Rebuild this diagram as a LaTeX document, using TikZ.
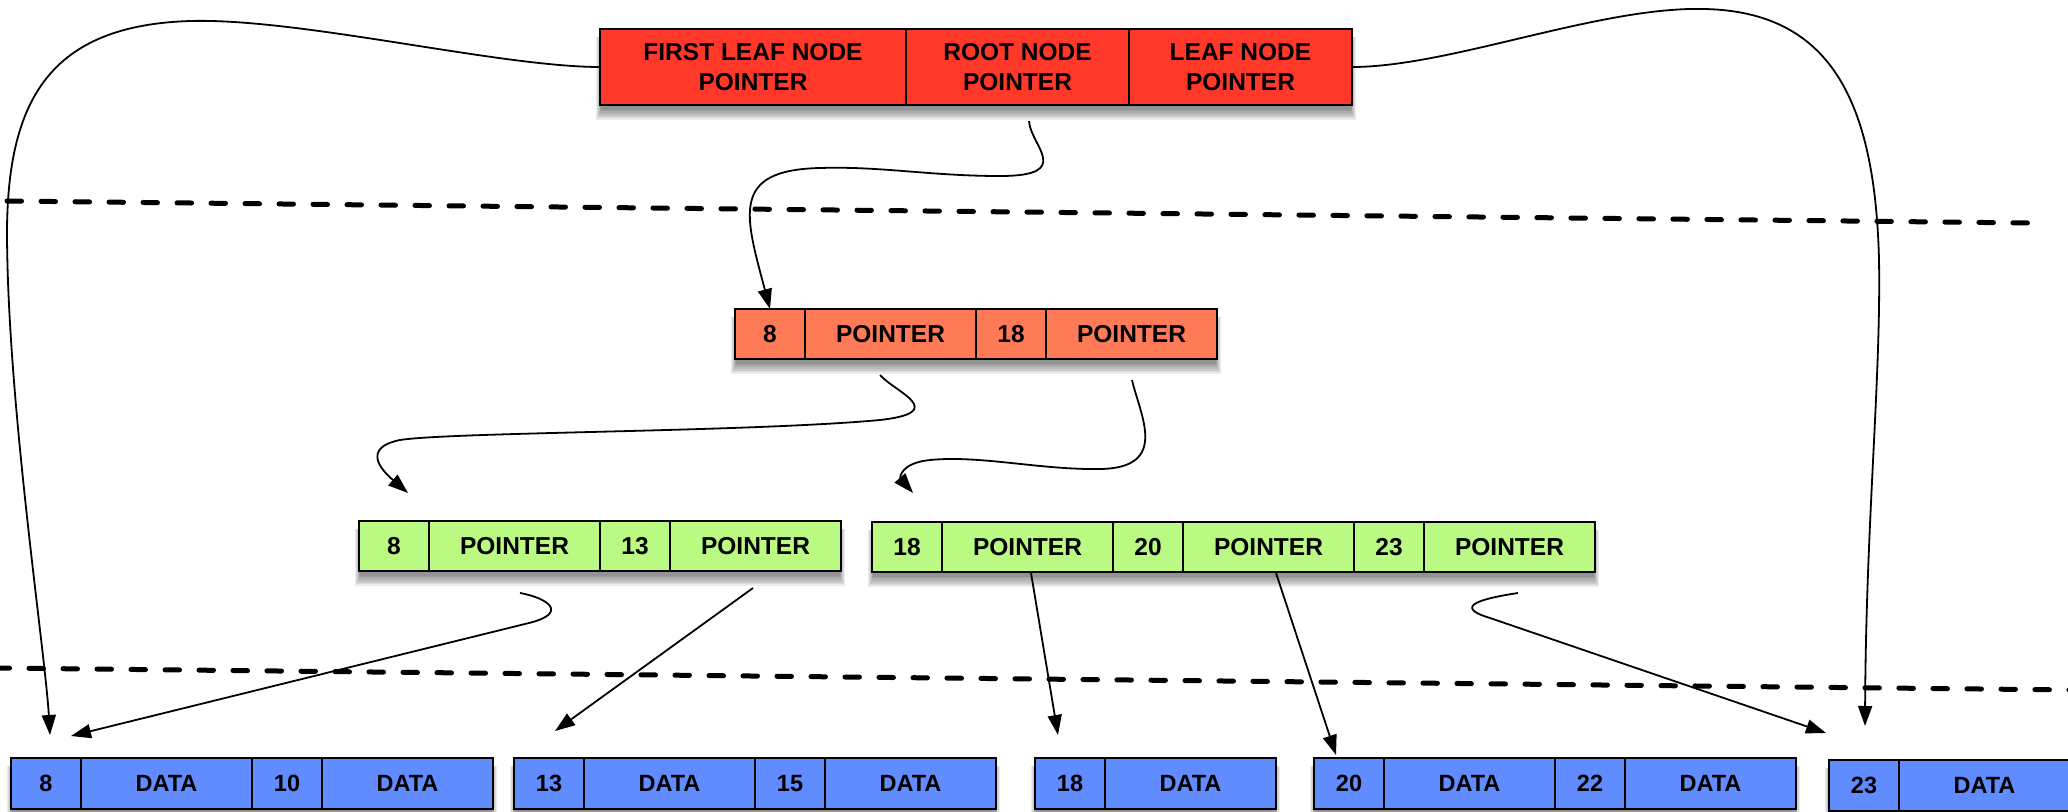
\documentclass[tikz,border=0pt]{standalone}
\usepackage{fontspec}
\setmainfont{Liberation Sans}
\usetikzlibrary{arrows.meta}
\definecolor{topred}{RGB}{255,56,42}
\definecolor{midorange}{RGB}{255,122,87}
\definecolor{leafgreen}{RGB}{186,250,130}
\definecolor{leafblue}{RGB}{96,140,255}
\newcommand\mydropshadow[4]{%
  \foreach \k in {1,...,7}{%
    \fill[black,opacity=0.075] ({#1-\k*0.8+2},{#2+8}) rectangle ({#3+\k*0.8-2},{#4+3+\k*1.7});
  }}
\begin{document}
\begin{tikzpicture}[x=1pt,y=-1pt,
  cellbox/.style={draw=black, line width=1.8pt, inner sep=0pt, outer sep=0pt,
    anchor=north west, align=center,
    font=\fontsize{24.5}{30}\selectfont\bfseries},
  numcell/.style={cellbox, minimum width=70pt, minimum height=50pt},
  ptrcell/.style={cellbox, minimum width=171pt, minimum height=50pt},
  leafnum/.style={numcell, fill=leafblue, minimum height=51pt,
    font=\fontsize{23.5}{28}\selectfont\bfseries},
  leafdata/.style={ptrcell, fill=leafblue, minimum height=51pt,
    font=\fontsize{23.5}{28}\selectfont\bfseries},
  conn/.style={draw=black, line width=1.8pt, -{Triangle[length=20pt,width=14pt]}},
  dashline/.style={draw=black, line width=5pt, line cap=round, dash pattern=on 14.5pt off 19.5pt}
]
\useasboundingbox (0,0) rectangle (2068,811);
\fill[white] (0,0) rectangle (2068,811);

% shadows
\mydropshadow{600}{29}{1352}{105}
\mydropshadow{735}{309}{1217}{359}
\mydropshadow{359}{521}{841}{571}
\mydropshadow{872}{522}{1595}{572}
\mydropshadow{11}{758}{493}{809}
\mydropshadow{514}{758}{996}{809}
\mydropshadow{1035}{758}{1276}{809}
\mydropshadow{1314}{758}{1796}{809}
\mydropshadow{1829}{760}{2070}{811}

% top box
\node[cellbox, fill=topred, minimum width=306pt, minimum height=76pt] (t1) at (600,29) {FIRST LEAF NODE\\POINTER};
\node[cellbox, fill=topred, minimum width=223pt, minimum height=76pt] (t2) at (t1.north east) {ROOT NODE\\POINTER};
\node[cellbox, fill=topred, minimum width=223pt, minimum height=76pt] (t3) at (t2.north east) {LEAF NODE\\POINTER};

% orange internal node
\node[numcell, fill=midorange] (o1) at (735,309) {8};
\node[ptrcell, fill=midorange] (o2) at (o1.north east) {POINTER};
\node[numcell, fill=midorange] (o3) at (o2.north east) {18};
\node[ptrcell, fill=midorange] (o4) at (o3.north east) {POINTER};

% green nodes
\node[numcell, fill=leafgreen] (ga1) at (359,521) {8};
\node[ptrcell, fill=leafgreen] (ga2) at (ga1.north east) {POINTER};
\node[numcell, fill=leafgreen] (ga3) at (ga2.north east) {13};
\node[ptrcell, fill=leafgreen] (ga4) at (ga3.north east) {POINTER};

\node[numcell, fill=leafgreen] (gb1) at (872,522) {18};
\node[ptrcell, fill=leafgreen] (gb2) at (gb1.north east) {POINTER};
\node[numcell, fill=leafgreen] (gb3) at (gb2.north east) {20};
\node[ptrcell, fill=leafgreen] (gb4) at (gb3.north east) {POINTER};
\node[numcell, fill=leafgreen] (gb5) at (gb4.north east) {23};
\node[ptrcell, fill=leafgreen] (gb6) at (gb5.north east) {POINTER};

% leaves
\node[leafnum] (la1) at (11,758) {8};
\node[leafdata] (la2) at (la1.north east) {DATA};
\node[leafnum] (la3) at (la2.north east) {10};
\node[leafdata] (la4) at (la3.north east) {DATA};

\node[leafnum] (lb1) at (514,758) {13};
\node[leafdata] (lb2) at (lb1.north east) {DATA};
\node[leafnum] (lb3) at (lb2.north east) {15};
\node[leafdata] (lb4) at (lb3.north east) {DATA};

\node[leafnum] (lc1) at (1035,758) {18};
\node[leafdata] (lc2) at (lc1.north east) {DATA};

\node[leafnum] (ld1) at (1314,758) {20};
\node[leafdata] (ld2) at (ld1.north east) {DATA};
\node[leafnum] (ld3) at (ld2.north east) {22};
\node[leafdata] (ld4) at (ld3.north east) {DATA};

\node[leafnum] (le1) at (1829,760) {23};
\node[leafdata] (le2) at (le1.north east) {DATA};

% dashed level separators
\draw[dashline] (7,201) -- (2031,223);
\draw[dashline] (-5,668) -- (2075,690);

% connector end points
\coordinate (cRoot) at (1029,121);
\coordinate (cO2) at (880,375);
\coordinate (cO4) at (1132,380);
\coordinate (cGa2) at (520,593);
\coordinate (cGa4) at (753,588);
\coordinate (cGb2) at (1031,573);
\coordinate (cGb4) at (1276,573);
\coordinate (cGb6) at (1518,593);
\coordinate (tipLa1) at (50,735);
\coordinate (tipLa1b) at (71,736);
\coordinate (tipLb1) at (555,731);
\coordinate (tipLc1) at (1058,735);
\coordinate (tipLd1) at (1336,755);
\coordinate (tipLe1) at (1865,726);
\coordinate (tipLe1b) at (1826,733);
\coordinate (tipGa1) at (408,493);
\coordinate (tipGb1) at (913,493);

% connectors
\draw[conn] (t1.west) .. controls (500,67) and (300,18) .. (191,21)
  .. controls (50,25) and (8,100) .. (7,230)
  .. controls (7,400) and (45,650) .. (tipLa1);
\draw[conn] (t3.east) .. controls (1450,67) and (1600,6) .. (1705,9)
  .. controls (1830,12) and (1875,100) .. (1879,260)
  .. controls (1881,380) and (1866,520) .. (tipLe1);
\draw[conn] (cRoot) .. controls (1030,145) and (1075,176) .. (1000,176)
  .. controls (930,176) and (880,166) .. (820,168)
  .. controls (730,170) and (745,215) .. (o1.north);
\draw[conn] (cO2) .. controls (895,392) and (950,412) .. (880,420)
  .. controls (750,432) and (450,432) .. (400,440)
  .. controls (370,446) and (372,462) .. (tipGa1);
\draw[conn] (cO4) .. controls (1140,415) and (1170,468) .. (1100,469)
  .. controls (1040,470) and (980,455) .. (930,460)
  .. controls (900,463) and (900,478) .. (tipGb1);
\draw[conn] (cGa2) .. controls (548,598) and (569,613) .. (529,623) -- (tipLa1b);
\draw[conn] (cGa4) -- (tipLb1);
\draw[conn] (cGb2) -- (tipLc1);
\draw[conn] (cGb4) -- (tipLd1);
\draw[conn] (cGb6) .. controls (1485,598) and (1450,606) .. (1490,618) -- (tipLe1b);
\end{tikzpicture}
\end{document}
